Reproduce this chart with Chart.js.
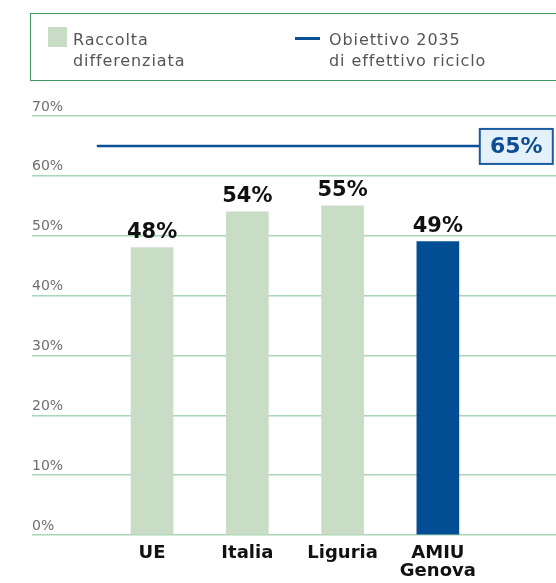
<!DOCTYPE html>
<html>
<head>
<meta charset="utf-8">
<script src="https://cdn.jsdelivr.net/npm/chart.js@4.4.0/dist/chart.umd.min.js"></script>
<style>
  html, body { margin: 0; padding: 0; background: #fff; }
  #wrap { position: relative; width: 556px; height: 583px; overflow: hidden; }
  #chart { position: absolute; left: 0; top: 0; }
  .legend { position: absolute; left: 30px; top: 13px; width: 560px; height: 68px; border: 1.5px solid #3f9a62; box-sizing: border-box; }
  .lg-item { position: absolute; top: 15px; font-family: 'DejaVu Sans', sans-serif; font-size: 16px; letter-spacing: 0.9px; line-height: 21px; color: #555; }
  .swatch { position: absolute; left: 17px; top: 13px; width: 19px; height: 20px; background: #c9dcc6; }
  .dash { position: absolute; left: 264px; top: 23px; width: 25px; height: 2.5px; background: #0b4f96; }
</style>
</head>
<body>
<div id="wrap">
  <canvas id="chart" width="556" height="583"></canvas>
  <div class="legend">
    <div class="swatch"></div>
    <div class="lg-item" style="left:42px">Raccolta<br>differenziata</div>
    <div class="dash"></div>
    <div class="lg-item" style="left:298px">Obiettivo 2035<br>di effettivo riciclo</div>
  </div>
</div>
<script>
// Raccolta differenziata vs obiettivo 2035
const categories = ['UE', 'Italia', 'Liguria', ['AMIU', 'Genova']];
const raccolta = [48, 54, 55, 49];
const barColors = ['#c9dcc6', '#c9dcc6', '#c9dcc6', '#034d94'];
const obiettivo = 65;
const yTicks = [0, 10, 20, 30, 40, 50, 60, 70];

const positions = categories.map((c, i) => i);

// value labels above bars + the 65% box at the end of the goal line
const labelsPlugin = {
  id: 'labels',
  afterDatasetsDraw(chart) {
    const ctx = chart.ctx;
    const bars = chart.getDatasetMeta(0).data;
    ctx.save();
    ctx.font = 'bold 21px "DejaVu Sans"';
    ctx.fillStyle = '#111';
    ctx.textAlign = 'center';
    ctx.textBaseline = 'alphabetic';
    bars.forEach((b, i) => ctx.fillText(raccolta[i] + '%', b.x, b.y - 10));

    const line = chart.getDatasetMeta(1).data;
    const end = line[line.length - 1];
    const bx = end.x, by = end.y - 17, bw = 73, bh = 35;
    ctx.fillStyle = '#e4f1fb';
    ctx.fillRect(bx, by, bw, bh);
    ctx.strokeStyle = '#1a5aa0';
    ctx.lineWidth = 2;
    ctx.strokeRect(bx, by, bw, bh);
    ctx.fillStyle = '#0d4d92';
    ctx.font = 'bold 22px "DejaVu Sans"';
    ctx.textBaseline = 'middle';
    ctx.fillText(obiettivo + '%', bx + bw / 2, end.y + 1);
    ctx.restore();
  }
};

new Chart(document.getElementById('chart').getContext('2d'), {
  type: 'bar',
  data: {
    datasets: [
      {
        type: 'bar',
        data: positions.map((x, i) => ({x, y: raccolta[i]})),
        backgroundColor: barColors,
        barThickness: 42,
        order: 2
      },
      {
        type: 'line',
        data: [{x: -0.58, y: obiettivo}, {x: 3.44, y: obiettivo}],
        borderColor: '#0b4f96',
        borderWidth: 2.5,
        pointRadius: 0,
        fill: false,
        order: 1
      }
    ]
  },
  plugins: [labelsPlugin],
  options: {
    responsive: false,
    animation: false,
    layout: {padding: {left: 32, right: 0, top: 116, bottom: 1}},
    plugins: {legend: {display: false}, tooltip: {enabled: false}},
    scales: {
      x: {
        type: 'linear',
        min: -1.26, max: 4.24,
        offset: false,
        grid: {display: false, drawTicks: false},
        border: {display: false},
        afterBuildTicks: s => { s.ticks = positions.map(v => ({value: v})); },
        afterFit: s => { s.height = 47; },
        ticks: {
          padding: 10,
          autoSkip: false,
          maxRotation: 0,
          color: '#111',
          font: {family: 'DejaVu Sans', weight: 'bold', size: 18, lineHeight: 0.97},
          callback: v => categories[v]
        }
      },
      y: {
        min: 0, max: 70,
        afterBuildTicks: s => { s.ticks = yTicks.map(v => ({value: v})); },
        grid: {color: '#a9d5b8', lineWidth: 1.5, drawTicks: false},
        border: {display: false},
        ticks: {
          mirror: true,
          padding: 0,
          labelOffset: -9,
          color: '#6e6e6e',
          font: {family: 'DejaVu Sans', size: 14},
          callback: v => v + '%'
        }
      }
    }
  }
});
</script>
</body>
</html>
